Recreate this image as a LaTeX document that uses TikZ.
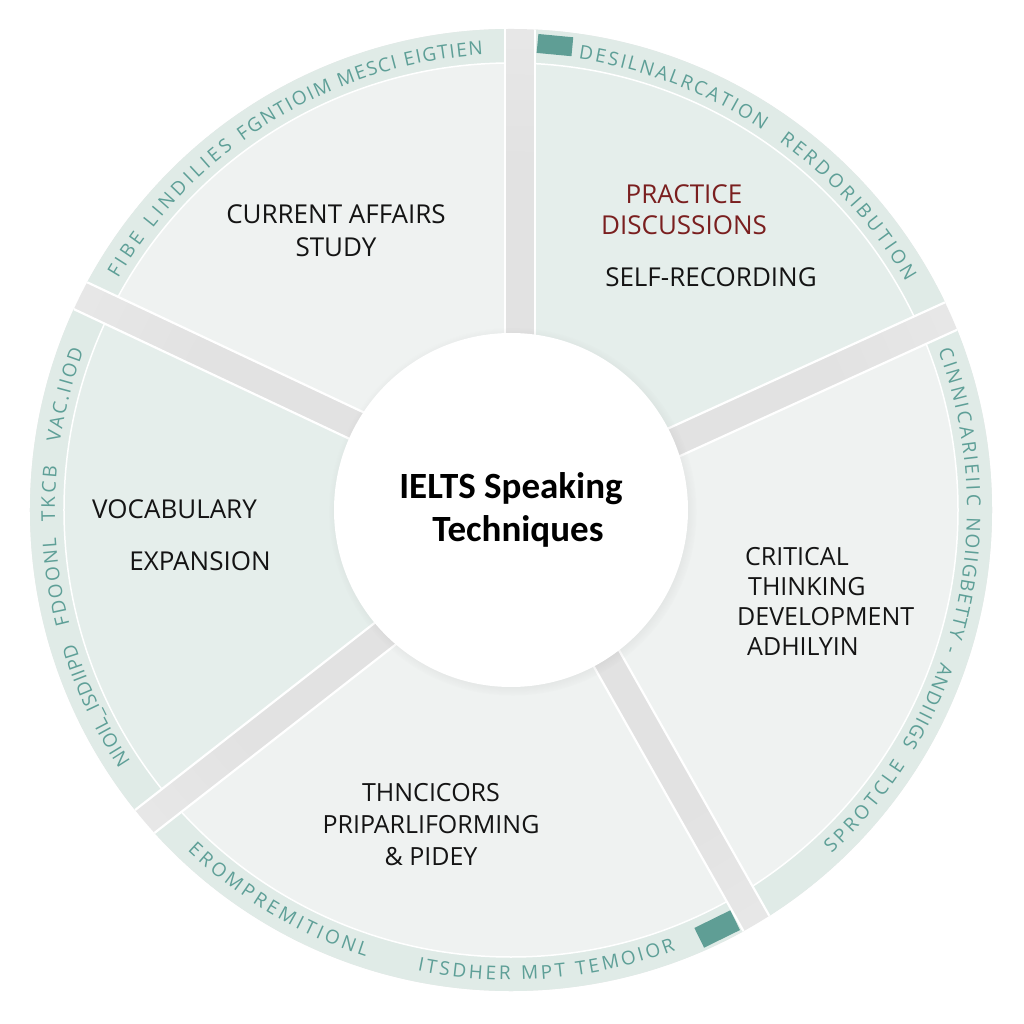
\documentclass[tikz,border=0pt]{standalone}
\usepackage{fontspec}
\setmainfont{Open Sans}
\newfontfamily\hubfont{Carlito}
\usetikzlibrary{decorations.text,shadows}

\definecolor{gapin}{HTML}{E2E2E2}
\definecolor{gapout}{HTML}{FAFAFA}
\definecolor{secgrey}{HTML}{EFF2F1}
\definecolor{secgreen}{HTML}{E5EEEB}
\definecolor{bandc}{HTML}{E0EBE7}
\definecolor{tealtxt}{HTML}{5E9F97}
\definecolor{tealbox}{HTML}{5F9E95}
\definecolor{darkred}{HTML}{7A1F1F}
\definecolor{labelblack}{HTML}{141414}

\pgfdeclareradialshading{gapshade}{\pgfpoint{0bp}{0bp}}{color(0bp)=(gapin); color(18bp)=(gapin); color(50bp)=(gapout)}

% #1 start gap angle, #2 its offset, #3 end gap angle, #4 its offset, #5 colour
\newcommand\piesector[5]{%
  \begin{scope}
    \clip[rotate=#1] (-700,#2+15) rectangle (700,700);
    \clip[rotate=#3] (-700,-700) rectangle (700,#4-15);
    \fill[bandc] (0,0) circle (481pt);
    \fill[#5] (0,0) circle (447pt);
    \draw[white, line width=1.5pt] (0,0) circle (447pt);
  \end{scope}}
% #1 gap angle, #2 offset
\newcommand\gapedge[2]{%
  \begin{scope}
    \clip (0,0) circle (481pt);
    \draw[white, line width=2.2pt, rotate=#1] (170,#2-15) -- (490,#2-15) (170,#2+15) -- (490,#2+15);
  \end{scope}}
\newcommand\bandstyle{\fontsize{19}{22}\selectfont\color{tealtxt}}
% clockwise text, tops outward
\newcommand\bandcw[3]{%
  \path[decorate, decoration={text along path, text align=fit to path, text={|\bandstyle|#3}}]
    (#1:456pt) arc[start angle=#1, end angle=#2, radius=456pt];}
% counter-clockwise text, tops inward
\newcommand\bandccw[3]{%
  \path[decorate, decoration={text along path, text align=fit to path, text={|\bandstyle|#3}}]
    (#1:470pt) arc[start angle=#1, end angle=#2, radius=470pt];}

\tikzset{
  lbl/.style={font=\fontsize{26}{33}\selectfont, align=center, inner sep=0pt, text=labelblack},
  lblsmall/.style={font=\fontsize{25}{30}\selectfont, inner sep=0pt, text=labelblack},
  tealsq/.style={fill=tealbox, inner sep=0pt},
}

\begin{document}
\begin{tikzpicture}[x=1pt,y=1pt]
\useasboundingbox (-511,-514) rectangle (513,510);
\fill[white] (-511,-514) rectangle (513,510);

% gaps background
\shade[shading=gapshade] (0,0) circle (481pt);

% sectors
\piesector{-60.5}{10}{24.5}{-6}{secgrey}
\piesector{24.5}{-6}{90}{-9}{secgreen}
\piesector{90}{-9}{154.8}{-10.6}{secgrey}
\piesector{154.8}{-10.6}{218}{20}{secgreen}
\piesector{218}{20}{299.5}{10}{secgrey}

% gap edges
\gapedge{90}{-9}
\gapedge{24.5}{-6}
\gapedge{-60.5}{10}
\gapedge{218}{20}
\gapedge{154.8}{-10.6}

% teal markers
\node[tealsq, minimum width=35pt, minimum height=19pt, rotate=-5.4] (mk1) at (84.6:467pt) {};
\node[tealsq, minimum width=40pt, minimum height=22pt, rotate=26.2] (mk2) at (296.2:467pt) {};

% band texts
\bandcw{149.5}{127.5}{FIBE LINDILIES}
\bandcw{126}{113}{FGNTIOIM}
\bandcw{112}{93.5}{MESCI EIGTIEN}
\bandcw{81.5}{56.5}{DESILNALRCATION}
\bandcw{54}{30}{RERDORIBUTION}
\bandcw{20.5}{0.5}{CINNICARIEIIC}
\bandcw{-1}{-18}{NOIIGBETTY -}
\bandcw{-19.5}{-31}{ANDIIIGS}
\bandccw{-47}{-33}{SPROTCLE}
\bandcw{213.5}{197}{NIOIL{\_}ISDIIPD}
\bandcw{194.5}{183.5}{FDOONL}
\bandcw{181.5}{174.5}{TKCB}
\bandcw{171.5}{159.5}{VAC.IIOD}
\bandccw{226.5}{252}{EROMPREMITIONL}
\bandccw{258.5}{290.5}{ITSDHER MPT TEMOIOR}

% hub
\node[circle, fill=white, minimum size=354pt, inner sep=0pt,
      circular drop shadow={shadow scale=1.04, opacity=0.25},
      font=\hubfont\bfseries\fontsize{37}{43}\selectfont, align=center, text=black] (hub) at (0,0)
      {IELTS Speaking\\\hspace*{14pt}Techniques};

% sector labels
\node[lbl] (curr) at (-175,279) {CURRENT AFFAIRS\\STUDY};
\node[lbl, text=darkred, font=\fontsize{26}{31}\selectfont] (prac) at (173,300) {PRACTICE\\DISCUSSIONS};
\node[lbl] (self) at (200,232.5) {SELF-RECORDING};
\node[lbl] (vocab) at (-336.5,1) {VOCABULARY};
\node[lbl] (expan) at (-311,-51.5) {EXPANSION};
\node[lblsmall, align=left, anchor=north west] (crit) at (226,-37)
  {\hspace*{8pt}CRITICAL\\\hspace*{11pt}THINKING\\DEVELOPMENT\\\hspace*{10pt}ADHILYIN};
\node[lblsmall, align=center, font=\fontsize{25}{32}\selectfont] (thn) at (-80,-315)
  {THNCICORS\\PRIPARLIFORMING\\\& PIDEY};
\end{tikzpicture}
\end{document}
